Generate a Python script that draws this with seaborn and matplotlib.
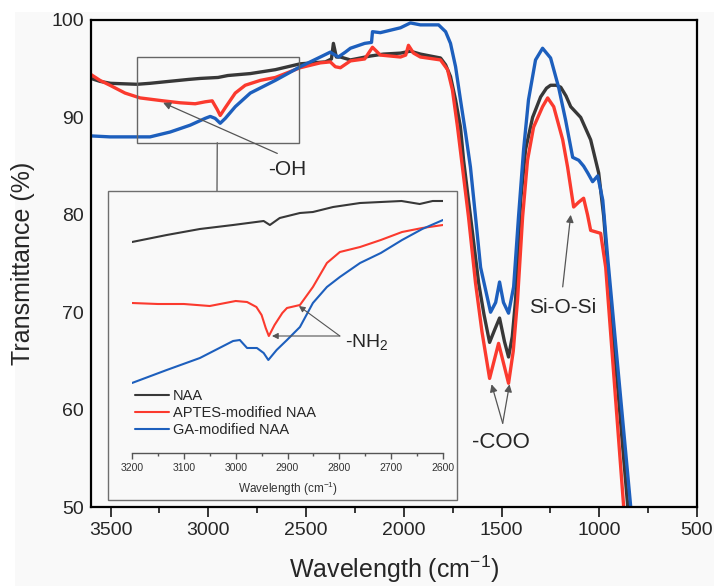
import numpy as np
import pandas as pd
import matplotlib
matplotlib.use("Agg")
import matplotlib.pyplot as plt
from matplotlib.patches import Rectangle, ConnectionPatch
import seaborn as sns

sns.set_style("ticks")
plt.rcParams["font.family"] = ["Liberation Sans", "DejaVu Sans"]
plt.rcParams["mathtext.fontset"] = "custom"
plt.rcParams["mathtext.rm"] = "Liberation Sans"
plt.rcParams["mathtext.it"] = "Liberation Sans:italic"

# ---- FTIR spectra (wavenumber in cm^-1, transmittance in %) ----
naa_wn = [3600, 3554, 3500, 3364, 3298, 3200, 3100, 3042, 2950, 2900, 2785, 2657,
          2530, 2401, 2370, 2360, 2345, 2324, 2273, 2171, 2104, 2017, 1966, 1915,
          1812, 1786, 1761, 1735, 1710, 1694, 1669, 1648, 1617, 1590, 1561, 1535,
          1510, 1485, 1464, 1445, 1428, 1402, 1377, 1341, 1300, 1270, 1249, 1220,
          1197, 1170, 1146, 1095, 1044, 1003, 977, 951, 854]
naa_t = [94.0, 93.7, 93.5, 93.4, 93.5, 93.7, 93.9, 94.0, 94.1, 94.3, 94.5, 94.9,
         95.5, 95.7, 96.0, 97.6, 96.2, 96.2, 95.9, 96.3, 96.5, 96.6, 96.8, 96.5,
         96.1, 95.4, 94.2, 91.8, 89.0, 85.6, 81.5, 78.1, 73.0, 69.8, 66.9, 68.2,
         69.4, 67.0, 65.4, 67.5, 71.3, 81.5, 86.7, 90.0, 92.1, 93.0, 93.3, 93.3,
         93.1, 92.2, 91.1, 90.0, 87.7, 84.3, 79.8, 73.0, 50.0]

aptes_wn = [3600, 3554, 3503, 3426, 3349, 3231, 3144, 3067, 3016, 2980, 2954, 2939,
            2913, 2862, 2811, 2734, 2657, 2530, 2427, 2376, 2350, 2324, 2273, 2200,
            2160, 2120, 2017, 1990, 1976, 1950, 1915, 1812, 1776, 1751, 1725, 1700,
            1669, 1633, 1600, 1561, 1515, 1464, 1440, 1418, 1392, 1367, 1336, 1290,
            1264, 1233, 1187, 1162, 1131, 1105, 1080, 1060, 1044, 993, 967, 875]
aptes_t = [94.4, 93.8, 93.3, 92.5, 92.0, 91.7, 91.5, 91.4, 91.6, 91.7, 90.8, 90.2,
           91.0, 92.5, 93.3, 93.8, 94.1, 95.1, 95.6, 95.7, 95.2, 95.1, 95.8, 96.0,
           97.2, 96.4, 96.2, 96.4, 97.4, 96.6, 96.2, 95.9, 94.9, 92.8, 89.0, 84.9,
           79.8, 73.0, 68.0, 63.2, 66.8, 62.7, 66.0, 71.3, 79.8, 85.6, 89.0, 91.1,
           92.0, 91.1, 87.7, 84.9, 80.8, 81.3, 81.7, 80.0, 78.4, 78.1, 74.6, 50.0]

ga_wn = [3600, 3503, 3364, 3298, 3195, 3093, 3016, 2990, 2965, 2939, 2913, 2862,
         2785, 2657, 2530, 2427, 2376, 2335, 2299, 2273, 2200, 2165, 2160, 2120,
         2017, 1966, 1915, 1822, 1786, 1761, 1735, 1710, 1684, 1659, 1633, 1607,
         1556, 1530, 1510, 1490, 1464, 1438, 1413, 1387, 1362, 1326, 1290, 1249,
         1208, 1172, 1136, 1105, 1080, 1059, 1034, 1008, 982, 956, 839]
ga_t = [88.1, 88.0, 88.0, 88.0, 88.5, 89.2, 89.9, 90.1, 89.9, 89.4, 89.9, 91.1,
        92.5, 93.8, 95.2, 96.2, 96.7, 96.2, 96.7, 97.1, 97.6, 97.7, 98.8, 98.7,
        99.2, 99.7, 99.5, 99.5, 98.8, 97.6, 95.2, 91.8, 88.4, 84.9, 79.8, 74.6,
        70.0, 71.0, 73.1, 71.0, 69.9, 72.6, 79.8, 86.7, 91.8, 95.9, 97.1, 96.1,
        93.1, 89.7, 85.9, 85.6, 85.0, 84.3, 83.4, 84.0, 81.5, 75.4, 50.0]

# ---- Expanded 3200-2600 cm^-1 region (offset, arbitrary units) ----
ins_naa_wn = [3200, 3133, 3069, 3005, 2946, 2934, 2915, 2876, 2851, 2812, 2760,
              2720, 2680, 2645, 2620, 2600]
ins_naa_v = [211, 218, 224, 228, 232, 228, 235, 240, 241, 246, 250, 251, 252, 249,
             252, 252]
ins_aptes_wn = [3200, 3150, 3100, 3050, 3000, 2978, 2960, 2950, 2942, 2936, 2925,
                2910, 2901, 2876, 2851, 2824, 2799, 2760, 2720, 2679, 2640, 2600]
ins_aptes_v = [150, 149, 149, 147, 152, 151, 146, 138, 125, 117, 128, 140, 145,
               148, 166, 190, 201, 206, 213, 221, 225, 228]
ins_ga_wn = [3200, 3133, 3069, 3005, 2992, 2978, 2959, 2946, 2937, 2921, 2901,
             2876, 2851, 2824, 2799, 2760, 2720, 2679, 2640, 2600]
ins_ga_v = [70, 83, 95, 112, 113, 105, 105, 100, 93, 103, 113, 126, 150, 166, 176,
            190, 200, 213, 224, 233]

samples = ["NAA", "APTES-modified NAA", "GA-modified NAA"]
colors = {"NAA": "#383838", "APTES-modified NAA": "#fb3a2e", "GA-modified NAA": "#1d5fbd"}

main_df = pd.concat([
    pd.DataFrame({"wn": naa_wn, "T": naa_t, "sample": samples[0]}),
    pd.DataFrame({"wn": aptes_wn, "T": aptes_t, "sample": samples[1]}),
    pd.DataFrame({"wn": ga_wn, "T": ga_t, "sample": samples[2]}),
])
inset_df = pd.concat([
    pd.DataFrame({"wn": ins_naa_wn, "v": ins_naa_v, "sample": samples[0]}),
    pd.DataFrame({"wn": ins_aptes_wn, "v": ins_aptes_v, "sample": samples[1]}),
    pd.DataFrame({"wn": ins_ga_wn, "v": ins_ga_v, "sample": samples[2]}),
])

W, H = 714, 586
bg = "#f9f9f9"
fig = plt.figure(figsize=(W / 100, H / 100), dpi=100, facecolor="white")
fig.patches.append(Rectangle((15 / W, 0), 1 - 15 / W, 1 - 12 / H,
                             transform=fig.transFigure, facecolor=bg,
                             edgecolor="none", zorder=-10))

ax = fig.add_axes([91 / W, 1 - 507 / H, 606 / W, 487 / H])
ax.set_facecolor(bg)
sns.lineplot(data=main_df, x="wn", y="T", hue="sample", palette=colors,
             estimator=None, sort=False, lw=2.4, legend=False, ax=ax)
ax.set_xlim(3600, 500)
ax.set_ylim(50, 100)
ax.set_xticks([3500, 3000, 2500, 2000, 1500, 1000, 500])
ax.set_xticks(np.arange(3750, 499, -500)[1:], minor=True)
ax.set_yticks([50, 60, 70, 80, 90, 100])
ax.tick_params(axis="x", which="major", direction="out", length=7, width=1.3,
               labelsize=14, pad=4)
ax.tick_params(axis="x", which="minor", direction="out", length=4, width=1.3)
ax.tick_params(axis="y", length=0, labelsize=14, pad=5)
for s in ax.spines.values():
    s.set_linewidth(1.6)
    s.set_color("black")
ax.set_xlabel("Wavelength (cm$^{-1}$)", fontsize=18, labelpad=10)
ax.set_ylabel("Transmittance (%)", fontsize=18, labelpad=12)

# zoom box around the expanded region
ax.add_patch(Rectangle((3364, 87.4), 2534 - 3364, 96.2 - 87.4, fill=False,
                       edgecolor="#666666", lw=1.0, zorder=3))

arrow_kw = dict(arrowstyle="-|>", color="#555555", lw=0.9, mutation_scale=11,
                shrinkA=0, shrinkB=0)
ax.annotate("", xy=(3231, 91.5), xytext=(2647, 86.3), arrowprops=arrow_kw)
ax.text(2596, 84.6, "-OH", fontsize=15, ha="center", va="center")
ax.annotate("", xy=(1551, 62.6), xytext=(1494, 58.6), arrowprops=arrow_kw)
ax.annotate("", xy=(1459, 62.6), xytext=(1494, 58.6), arrowprops=arrow_kw)
ax.text(1505, 56.6, "-COO", fontsize=16, ha="center", va="center")
ax.annotate("", xy=(1146, 80.0), xytext=(1187, 72.6), arrowprops=arrow_kw)
ax.text(1187, 70.5, "Si-O-Si", fontsize=15, ha="center", va="center")

# inset frame
fig.patches.append(Rectangle((108 / W, 1 - 500 / H), 349 / W, 309 / H,
                             transform=fig.transFigure, fill=False,
                             edgecolor="#6e6e6e", lw=1.0, zorder=5))
con = ConnectionPatch(xyA=(2954, 87.4), coordsA=ax.transData,
                      xyB=(217 / W, 1 - 191 / H), coordsB=fig.transFigure,
                      color="#666666", lw=1.0)
fig.add_artist(con)

axi = fig.add_axes([132 / W, 1 - 453 / H, 311 / W, 262 / H])
axi.patch.set_alpha(0)
for name in samples:
    sub = inset_df[inset_df["sample"] == name]
    sns.lineplot(data=sub, x="wn", y="v", color=colors[name], lw=1.5,
                 estimator=None, sort=False, label=name, ax=axi)
axi.set_xlim(3200, 2600)
axi.set_ylim(0, 262)
axi.set_xticks(np.arange(3200, 2599, -100))
axi.set_xticks(np.arange(3150, 2600, -100), minor=True)
axi.set_yticks([])
for side in ["left", "right", "top"]:
    axi.spines[side].set_visible(False)
axi.spines["bottom"].set_color("#555555")
axi.spines["bottom"].set_linewidth(1.0)
axi.tick_params(axis="x", which="major", length=4, width=1.0, color="#555555",
                labelsize=7.5, labelcolor="#333333", pad=3)
axi.tick_params(axis="x", which="minor", length=2.5, width=1.0, color="#555555")
axi.set_xlabel("Wavelength (cm$^{-1}$)", fontsize=8.5, color="#333333", labelpad=5)
axi.set_ylabel("")
axi.legend(loc="upper left", bbox_to_anchor=(135 / W, 1 - 389 / H),
           bbox_transform=fig.transFigure, frameon=False, fontsize=10.5,
           handlelength=2.3, handletextpad=0.3, labelspacing=0.2,
           borderpad=0, borderaxespad=0)

ins_arrow = dict(arrowstyle="-|>", color="#555555", lw=0.8, mutation_scale=9,
                 shrinkA=0, shrinkB=0)
axi.annotate("", xy=(2930, 117), xytext=(2799, 117), arrowprops=ins_arrow,
             annotation_clip=False)
axi.annotate("", xy=(2878, 147), xytext=(2799, 117), arrowprops=ins_arrow,
             annotation_clip=False)
axi.text(2789, 111, "-NH$_2$", fontsize=14, ha="left", va="center")

fig.savefig("out.png", dpi=100, facecolor=fig.get_facecolor())
